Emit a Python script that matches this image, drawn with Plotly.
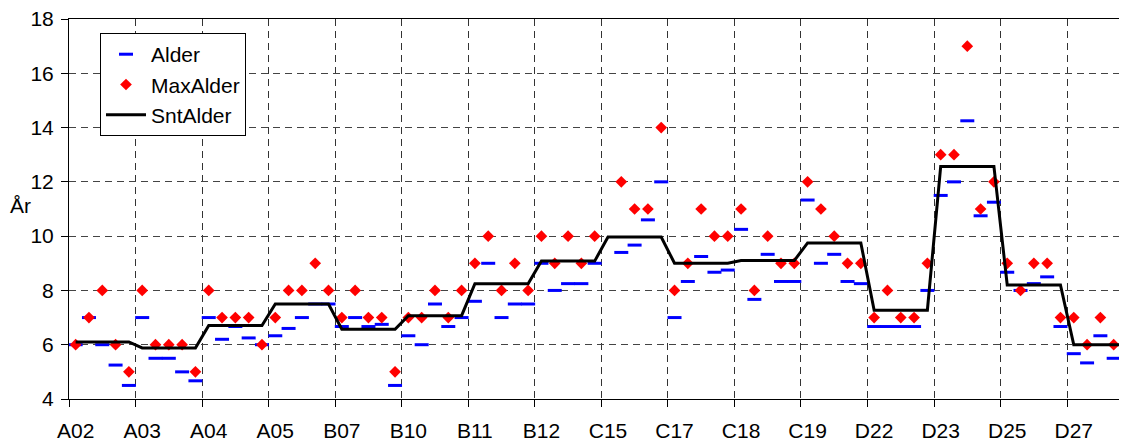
import plotly.graph_objects as go

groups = ["A02", "A03", "A04", "A05", "B07", "B10", "B11", "B12",
          "C15", "C17", "C18", "C19", "D22", "D23", "D25", "D27"]

alder = [6, 7, 6, 5.25, 4.5,
         7, 5.5, 5.5, 5.0, 4.67,
         7, 6.2, 6.67, 6.25, 6,
         6.33, 6.6, 7, 7.5, 7.5,
         6.67, 7, 6.67, 6.75, 4.5,
         6.33, 6, 7.5, 6.67, 7,
         7.6, 9, 7, 7.5, 7.5,
         9, 8, 8.25, 8.25, 9,
         None, 9.4, 9.67, 10.6, 12,
         7, 8.33, 9.25, 8.67, 8.75,
         10.25, 7.67, 9.33, 8.33, 8.33,
         11.33, 9, 9.33, 8.33, 8.25,
         6.67, 6.67, 6.67, 6.67, 8,
         11.5, 12, 14.25, 10.75, 11.25,
         8.67, 8, 8.25, 8.5, 6.67,
         5.67, 5.33, 6.33, 5.5, 5.0]

max_alder = [6, 7, 8, 6, 5,
             8, 6, 6, 6, 5,
             8, 7, 7, 7, 6,
             7, 8, 8, 9, 8,
             7, 8, 7, 7, 5,
             7, 7, 8, 7, 8,
             9, 10, 8, 9, 8,
             10, 9, 10, 9, 10,
             None, 12, 11, 11, 14,
             8, 9, 11, 10, 10,
             11, 8, 10, 9, 9,
             12, 11, 10, 9, 9,
             7, 8, 7, 7, 9,
             13, 13, 17, 11, 12,
             9, 8, 9, 9, 7,
             7, 6, 7, 6, 6]

snt_group = [6.1, 5.88, 6.71, 7.5, 6.57, 7.07, 8.25, 9.08,
             9.97, 9.0, 9.1, 9.75, 7.27, 12.57, 8.2, 6.0]

snt_alder = [v for v in snt_group for _ in range(5)]
x = list(range(len(alder)))

font = dict(family="Liberation Sans, Arial, sans-serif", size=21, color="black")

fig = go.Figure()
fig.add_trace(go.Scatter(
    x=x, y=alder, mode="markers", name="Alder",
    marker=dict(symbol="line-ew", size=10, color="#0000FF",
                line=dict(color="#0000FF", width=3)),
))
fig.add_trace(go.Scatter(
    x=x, y=max_alder, mode="markers", name="MaxAlder",
    marker=dict(symbol="diamond", size=9, color="#FF0000",
                line=dict(width=0)),
))
fig.add_trace(go.Scatter(
    x=x, y=snt_alder, mode="lines", name="SntAlder",
    line=dict(color="black", width=3),
))

# The page body adds an 8px offset; the figure is sized to compensate.
fig.update_layout(
    width=1119, height=435,
    margin=dict(l=61, r=0, t=11, b=44),
    paper_bgcolor="white", plot_bgcolor="white",
    font=font,
    showlegend=True,
    legend=dict(x=0.0293, y=0.963, xanchor="left", yanchor="top",
                bgcolor="white", bordercolor="black", borderwidth=1,
                itemwidth=40, font=font),
    xaxis=dict(
        range=[-0.5, 79.0],
        tickmode="array",
        tickvals=[5 * i for i in range(len(groups))],
        ticktext=groups,
        ticks="", showgrid=False, zeroline=False,
        showline=True, linecolor="black", linewidth=1, mirror=True,
        tickfont=font, ticklabelstandoff=13, automargin=False,
        ticklabeloverflow="allow",
        minor=dict(tickvals=[5 * i - 0.5 for i in range(len(groups))],
                   ticks="outside", ticklen=7, tickcolor="black", tickwidth=1,
                   showgrid=True, gridcolor="#333333", gridwidth=1,
                   griddash="7px,5px"),
    ),
    yaxis=dict(
        range=[4, 18], dtick=2, tick0=4,
        ticks="outside", ticklen=7, tickcolor="black",
        showgrid=True, gridcolor="#444444", gridwidth=1, griddash="7px,5px",
        zeroline=False, showline=True, linecolor="black", linewidth=1,
        tickfont=font, ticklabelstandoff=3, automargin=False,
        ticklabeloverflow="allow",
    ),
    annotations=[dict(text="År", xref="paper", yref="paper",
                      x=-0.0463, y=0.5105, xanchor="center", yanchor="middle",
                      showarrow=False, font=font)],
)

fig.write_html("out.html")
